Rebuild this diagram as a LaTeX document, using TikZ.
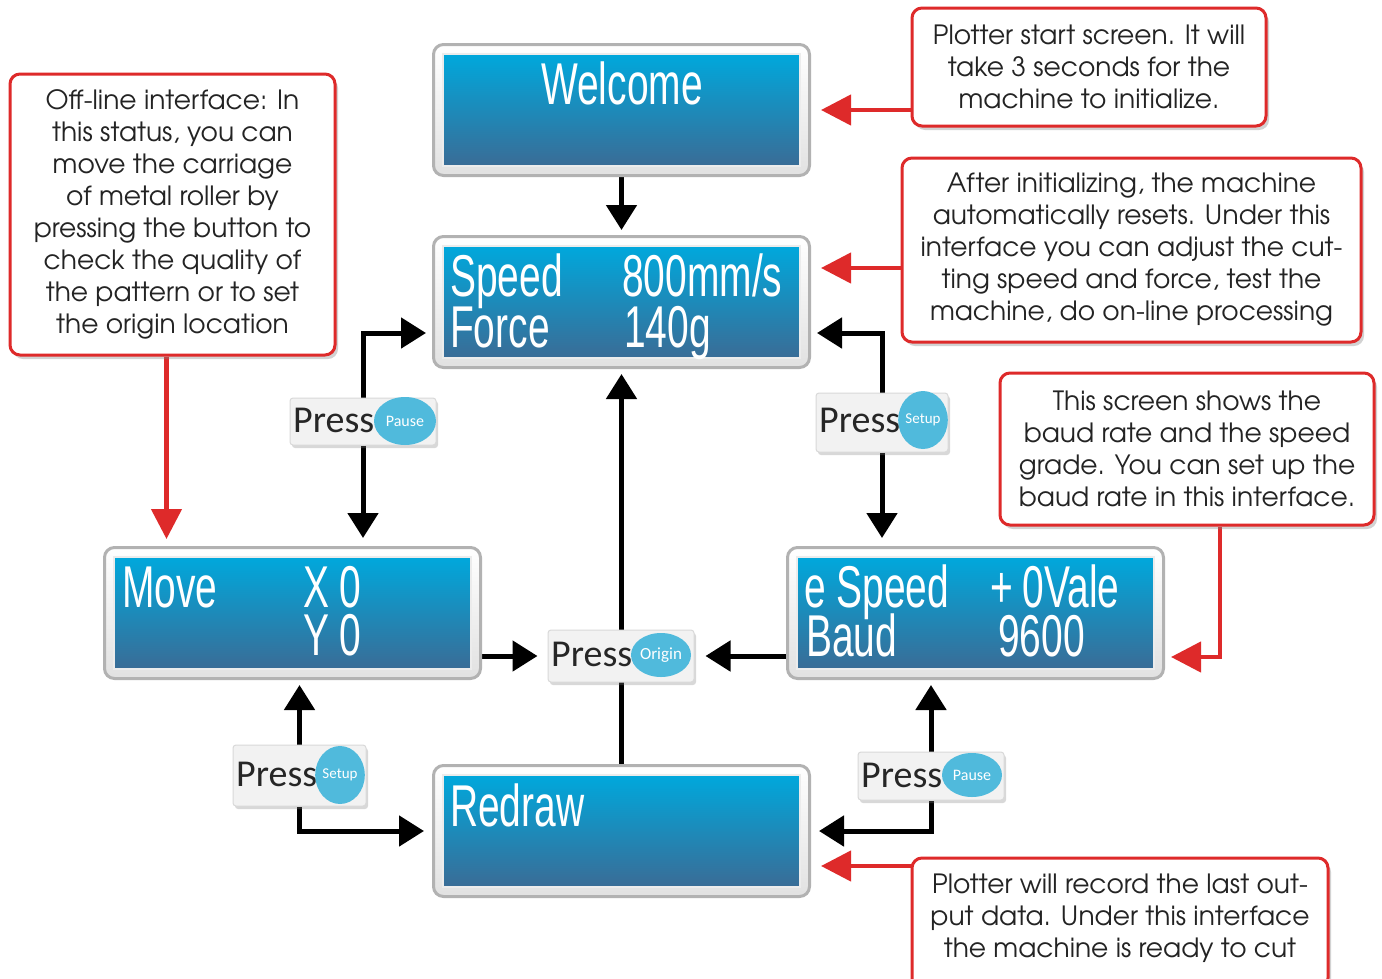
\documentclass[tikz,border=0pt]{standalone}
\usepackage{fontspec}
\setmainfont{Carlito}
\newfontfamily\lcdfont[FakeStretch=0.66]{Liberation Sans}
\newfontfamily\notefont{TeX Gyre Adventor}
\usetikzlibrary{arrows.meta,shapes.geometric,shadows,calc}
\definecolor{lcdtop}{RGB}{0,168,220}
\definecolor{lcdbot}{RGB}{58,108,150}
\definecolor{framefill}{RGB}{236,236,236}
\definecolor{frameedge}{RGB}{178,178,178}
\definecolor{notered}{RGB}{222,42,42}
\definecolor{btnfill}{RGB}{242,242,242}
\definecolor{btnblue}{RGB}{80,186,220}
\definecolor{txtgray}{RGB}{35,35,35}
\pgfdeclarelayer{bg}
\pgfsetlayers{bg,main}
\tikzset{
  screen/.style={draw=frameedge, line width=3pt, top color=white, bottom color=framefill!90!gray, rounded corners=10pt, minimum width=376pt, minimum height=131pt, inner sep=0pt},
  lcd/.style={font=\lcdfont\fontsize{59}{59}\selectfont, text=white, inner sep=0pt, anchor=base west, text height=43pt, text depth=2pt},
  note/.style={draw=notered, line width=3pt, fill=white, rounded corners=10pt, drop shadow={shadow xshift=3pt, shadow yshift=-4pt, opacity=0.35}, font=\notefont\fontsize{26.5}{32}\selectfont, text=txtgray, align=center, inner sep=0pt},
  notetext/.style={font=\notefont\fontsize{26.5}{32}\selectfont, text=txtgray, align=center, inner sep=0pt},
  btn/.style={draw=black!15, line width=1pt, fill=btnfill, rounded corners=3pt, drop shadow={shadow xshift=2pt, shadow yshift=-3pt, opacity=0.3}, inner sep=0pt},
  presst/.style={font=\fontsize{38}{38}\selectfont, text=black!85, inner sep=0pt, anchor=base west},
  key/.style={ellipse, fill=btnblue, inner sep=0pt, text=white, font=\fontsize{16}{16}\selectfont},
  blk/.style={line width=5pt, -{Triangle[length=25pt,width=30pt]}},
  redarr/.style={draw=notered, line width=4.5pt, -{Triangle[length=30pt,width=30pt]}}
}
\begin{document}
\begin{tikzpicture}[x=1pt,y=-1pt]
\useasboundingbox (0,0) rectangle (1382,978);
\begin{pgfonlayer}{bg}
\fill[white] (0,0) rectangle (1382,978);
\end{pgfonlayer}
% screens
\node[screen] (welcome) at (621.5,110) {};
\node[screen] (speed) at (621.5,302) {};
\node[screen] (move) at (292.5,613) {};
\node[screen] (baud) at (975.5,613) {};
\node[screen] (redraw) at (621.5,831) {};
\foreach \s in {welcome,speed,move,baud,redraw}
  \shade[top color=lcdtop, bottom color=lcdbot, draw=white!85!gray, line width=1.5pt]
    ([shift={(11,11)}]\s.north west) rectangle ([shift={(-11,-11)}]\s.south east);
% LCD texts
\node[lcd, anchor=base] (tw) at (622,104) {Welcome};
\node[lcd] (t1) at (450,296) {Speed};
\node[lcd] (t2) at (622,296) {800mm/s};
\node[lcd] (t3) at (450,347) {Force};
\node[lcd] (t4) at (624,347) {140g};
\node[lcd] (t5) at (122,607) {Move};
\node[lcd] (t6) at (303,607) {X 0};
\node[lcd] (t7) at (303,655) {Y 0};
\node[lcd] (t8) at (804,607) {e Speed};
\node[lcd] (t9) at (990,607) {+\,0Vale};
\node[lcd] (t10) at (806,656) {Baud};
\node[lcd] (t11) at (998,656) {9600};
\node[lcd] (t12) at (450,826) {Redraw};
% notes
\node[note, minimum width=354pt, minimum height=118pt] (n1) at (1089,67)
  {Plotter start screen. It will\\take 3 seconds for the\\machine to initialize.};
\node[note, minimum width=459pt, minimum height=184pt] (n2) at (1131.5,250)
  {After initializing, the machine\\automatically resets. Under this\\interface you can adjust the cut-\\ting speed and force, test the\\machine, do on-line processing};
\node[note, minimum width=325pt, minimum height=281pt] (n3) at (172.5,214.5)
  {Off-line interface: In\\this status, you can\\move the carriage\\of metal roller by\\pressing the button to\\check the quality of\\the pattern or to set\\the origin location};
\node[note, minimum width=374pt, minimum height=152pt] (n4) at (1187,449)
  {This screen shows the\\baud rate and the speed\\grade. You can set up the\\baud rate in this interface.};
\node[note, minimum width=416pt, minimum height=130pt] (n5) at (1120,923) {};
\node[notetext] (n5t) at (1120,918)
  {Plotter will record the last out-\\put data. Under this interface\\the machine is ready to cut};
% buttons
\node[btn, minimum width=146pt, minimum height=47pt] (pl) at (363,421.5) {};
\node[presst] (plt) at (293,432) {Press};
\node[key, minimum width=62pt, minimum height=48pt] (plk) at (405,421) {Pause};
\node[btn, minimum width=132pt, minimum height=59pt] (ps) at (882,422.5) {};
\node[presst] (pst) at (819,432) {Press};
\node[key, minimum width=44pt, minimum height=58pt, font=\fontsize{15}{15}\selectfont] (psk) at (923,420) {Setup};
\node[btn, minimum width=146pt, minimum height=52pt] (po) at (621,656) {};
\node[presst] (pot) at (551,666) {Press};
\node[key, minimum width=60pt, minimum height=44pt, font=\fontsize{17}{17}\selectfont] (pok) at (661,655) {Origin};
\node[btn, minimum width=133pt, minimum height=61pt] (bs) at (299.5,775.5) {};
\node[presst] (bst) at (236,786) {Press};
\node[key, minimum width=42pt, minimum height=58pt, font=\fontsize{15}{15}\selectfont] (bsk) at (340,775) {Setup};
\node[btn, minimum width=146pt, minimum height=48pt] (bp) at (931,776) {};
\node[presst] (bpt) at (861,787) {Press};
\node[key, minimum width=60pt, minimum height=44pt] (bpk) at (972,775) {Pause};
% connectors
\coordinate (r2) at ([yshift=34pt]speed.east);
\coordinate (r3) at ([xshift=-6pt]n3.south);
\coordinate (r4a) at ([xshift=33pt]n4.south);
\coordinate (r4b) at ([yshift=-44pt]baud.east);
\coordinate (r5) at ([yshift=-35pt]redraw.east);
\begin{pgfonlayer}{bg}
\draw[blk, shorten >=5pt] (welcome.south) -- (speed.north);
\draw[blk, shorten >=6pt] (pl.north) |- ([yshift=-31pt]speed.west);
\draw[blk, shorten >=8pt] (pl.south) -- (pl.south |- move.north);
\draw[blk, shorten >=6pt] (ps.north) |- ([yshift=-31pt]speed.east);
\draw[blk, shorten >=8pt] (ps.south) -- (ps.south |- baud.north);
\draw[blk, shorten >=5pt] (redraw.north) -- (speed.south);
\draw[blk, shorten >=10pt] (move.east |- po.west) -- (po.west);
\draw[blk, shorten >=11pt] (baud.west |- po.east) -- (po.east);
\draw[blk, shorten >=5pt] (bs.north) -- (bs.north |- move.south);
\draw[blk, shorten >=8pt] (bs.south) |- (redraw.west);
\draw[blk, shorten >=5pt] (bp.north) -- (bp.north |- baud.south);
\draw[blk, shorten >=8pt] (bp.south) |- (redraw.east);
\draw[redarr, shorten >=10pt] (n1.west |- welcome.east) -- (welcome.east);
\draw[redarr, shorten >=10pt] (n2.west |- r2) -- (r2);
\draw[redarr, shorten >=7pt] (r3) -- (r3 |- move.north);
\draw[redarr, shorten >=6pt] (r4a) |- (r4b);
\draw[redarr, shorten >=10pt] (n5.west |- r5) -- (r5);
\end{pgfonlayer}
\end{tikzpicture}
\end{document}
